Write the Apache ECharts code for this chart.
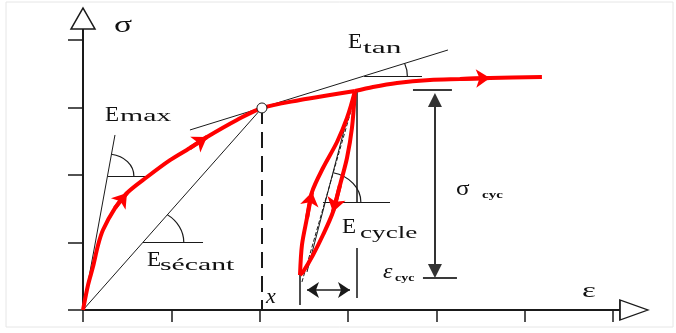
<!DOCTYPE html>
<html>
<head>
<meta charset="utf-8">
<script src="https://cdn.jsdelivr.net/npm/echarts@6/dist/echarts.min.js"></script>
<style>
html, body { margin: 0; padding: 0; background: #fff; }
#main { width: 676px; height: 333px; }
</style>
</head>
<body>
<div id="main"></div>
<script>
// ticks of the two axes (strain, stress)
var xTicks = [0, 1, 2, 3, 4, 5, 6];
var yTicks = [0, 1, 2, 3, 4];

// red curve: monotonic loading, unloading, reloading, then loading again
var loadCurve = [[0, 0], [0.057, 0.37], [0.113, 0.64], [0.17, 0.96], [0.226, 1.185], [0.362, 1.51],
    [0.498, 1.733], [0.725, 1.97], [0.985, 2.22], [1.211, 2.4], [1.404, 2.563], [1.743, 2.815],
    [2.026, 2.993], [2.457, 3.111], [2.796, 3.185], [3.079, 3.244]];
var unloadCurve = [[3.079, 3.244], [3.045, 2.696], [2.989, 2.252], [2.91, 1.852], [2.83, 1.452],
    [2.717, 1.111], [2.604, 0.815], [2.491, 0.563], [2.457, 0.519]];
var reloadCurve = [[2.457, 0.519], [2.479, 0.963], [2.536, 1.363], [2.593, 1.748], [2.717, 2.104],
    [2.876, 2.489], [2.989, 2.844], [3.079, 3.244]];
var afterCurve = [[3.079, 3.244], [3.283, 3.304], [3.555, 3.363], [3.928, 3.407], [4.268, 3.422],
    [4.608, 3.437], [5.196, 3.452]];

// point x on the curve (secant end)
var secantPoint = [2.026, 2.993];

// moduli lines
var emaxLine = [[0, 0], [0.362, 2.593]];
var secantLine = [[0, 0], secantPoint];
var tangentLine = [[1.211, 2.667], [4.132, 3.852]];
var cycleLine = [[2.479, 0.415], [3.079, 3.156]];
var cycleLine2 = [[2.536, 0.563], [3.045, 3.111]];
var baseLines = [
    [[0.283, 1.985], [0.736, 1.985]],
    [[0.679, 1.007], [1.359, 1.007]],
    [[3.183, 3.467], [3.838, 3.467]],
    [[2.717, 1.6], [3.476, 1.6]]
];
// angle marks: corner, point on the sloped line
var angleMarks = [
    [0.277, 1.985, 0.362, 2.593],
    [0.679, 1.007, 2.026, 2.993],
    [3.183, 3.467, 4.132, 3.852],
    [2.738, 1.6, 3.079, 3.156]
];
// guides for the cycle amplitudes
var guideLines = [
    [[3.102, 3.244], [3.102, 1.6]],
    [[3.102, 0.919], [3.102, 0.178]],
    [[2.457, 0.519], [2.457, 0.074]],
    [[3.736, 3.259], [4.177, 3.259]],
    [[3.849, 0.474], [4.234, 0.474]]
];
var xDashed = [[2.026, 2.993], [2.026, -0.19]];
var sigmaCyc = [[3.985, 3.111], [3.985, 0.578]];
var epsCyc = [[2.536, 0.296], [3.023, 0.296]];

var arcRadius = [22, 34, 36, 30];
var arcStretch = 1.2;
var ink = '#1a1a1a';
var serif = '"Liberation Serif", "DejaVu Serif", serif';

// arrowheads on the red curve: [curve, index of point]
var redArrows = [[loadCurve, 6], [loadCurve, 10], [unloadCurve, 4], [reloadCurve, 3], [afterCurve, 5]];

function seg(c) { return { coords: c }; }

function renderArc(params, api) {
    var c = api.coord([api.value(0), api.value(1)]);
    var p = api.coord([api.value(2), api.value(3)]);
    var a = Math.atan2(p[1] - c[1], (p[0] - c[0]) / arcStretch);
    return {
        type: 'arc',
        x: c[0], y: c[1], scaleX: arcStretch,
        shape: { cx: 0, cy: 0, r: arcRadius[params.dataIndex], startAngle: a, endAngle: 0, clockwise: true },
        style: { stroke: ink, fill: null, lineWidth: 1, strokeNoScale: true }
    };
}

function txt(x, y, s, size, sx, extra) {
    var st = { text: s, fontSize: size, fontFamily: serif, fill: '#111', align: 'left', verticalAlign: 'middle' };
    if (extra) for (var k in extra) st[k] = extra[k];
    return { type: 'text', x: x, y: y, scaleX: sx, style: st, z: 100 };
}

function redLine(d) {
    return {
        type: 'line', data: d, smooth: 0.3, showSymbol: false, clip: false, z: 3,
        lineStyle: { color: '#ff0000', width: 4 }, itemStyle: { color: '#ff0000' }
    };
}

function segLines(data, style, extra) {
    var s = {
        type: 'lines', coordinateSystem: 'cartesian2d', z: 2,
        lineStyle: Object.assign({ opacity: 1, curveness: 0 }, style),
        data: data
    };
    if (extra) for (var k in extra) s[k] = extra[k];
    return s;
}

var chart = echarts.init(document.getElementById('main'));
var option = {
    animation: false,
    backgroundColor: '#fff',
    grid: { left: 83, top: 29, right: 56, bottom: 23, containLabel: false, outerBoundsMode: 'none' },
    xAxis: {
        type: 'value', min: 0, max: 6.08,
        axisLine: { lineStyle: { color: ink, width: 2 } },
        axisTick: { customValues: xTicks, length: 12, lineStyle: { color: ink, width: 1.5 } },
        axisLabel: { show: false },
        splitLine: { show: false }
    },
    yAxis: {
        type: 'value', min: 0, max: 4.163,
        axisLine: { lineStyle: { color: ink, width: 2 } },
        axisTick: { customValues: yTicks, length: 15, lineStyle: { color: ink, width: 1.5 } },
        axisLabel: { show: false },
        splitLine: { show: false }
    },
    series: [
        segLines([seg(emaxLine), seg(secantLine), seg(tangentLine), seg(cycleLine2)].concat(baseLines.map(seg)),
            { color: ink, width: 1 }),
        segLines([seg(cycleLine)], { color: ink, width: 1, type: [4, 2] }),
        segLines(guideLines.map(seg), { color: '#3a3a3a', width: 1.8 }),
        segLines([seg(xDashed)], { color: ink, width: 2, type: [16, 8] }),
        segLines([seg(sigmaCyc)], { color: '#333', width: 2 },
            { symbol: ['triangle', 'triangle'], symbolSize: 14 }),
        segLines([seg(epsCyc)], { color: ink, width: 1.5 },
            { symbol: ['arrow', 'arrow'], symbolSize: 12 }),
        {
            type: 'custom', coordinateSystem: 'cartesian2d', renderItem: renderArc, z: 2,
            data: angleMarks
        },
        redLine(loadCurve),
        redLine(unloadCurve),
        redLine(reloadCurve),
        redLine(afterCurve),
        segLines(redArrows.map(function (a) { return seg([a[0][a[1] - 1], a[0][a[1]]]); }),
            { color: '#ff0000', width: 4 },
            { symbol: ['none', 'arrow'], symbolSize: 14, z: 4 }),
        {
            type: 'scatter', clip: false, z: 5,
            symbol: 'circle', symbolSize: 10,
            itemStyle: { color: '#fff', borderColor: ink, borderWidth: 1, opacity: 1 },
            data: [secantPoint]
        },
        {
            type: 'scatter', clip: false, z: 5,
            symbol: 'triangle',
            itemStyle: { color: '#fff', borderColor: ink, borderWidth: 1.5, opacity: 1 },
            data: [
                { value: [6.238, 0], symbolSize: [20, 28], symbolRotate: -90 },
                { value: [0, 4.319], symbolSize: [24, 21] }
            ]
        }
    ],
    graphic: [
        { type: 'rect', shape: { x: 6, y: 2, width: 667, height: 325 }, style: { fill: null, stroke: '#e6e6e6', lineWidth: 1 }, silent: true },
        txt(114, 26, 'σ', 24, 1.4),
        txt(582, 291, 'ε', 22, 1.5),
        txt(266, 297, 'x', 22, 1.0, { fontStyle: 'italic' }),
        txt(105, 115, 'E', 21, 1.1),
        txt(120, 117, 'max', 17, 1.75),
        txt(348, 42, 'E', 21, 1.1),
        txt(363, 49, 'tan', 17, 1.85),
        txt(147, 260, 'E', 21, 1.1),
        txt(160, 266, 'sécant', 17, 1.75),
        txt(342, 227, 'E', 21, 1.1),
        txt(360, 234, 'cycle', 17, 1.6),
        txt(456, 189, 'σ', 21, 1.2),
        txt(482, 195, 'cyc', 10, 1.5, { fontWeight: 'bold' }),
        txt(383, 273, 'ε', 20, 1.2, { fontStyle: 'italic' }),
        txt(395, 278, 'cyc', 10, 1.4, { fontWeight: 'bold' })
    ]
};
chart.setOption(option);
</script>
</body>
</html>
